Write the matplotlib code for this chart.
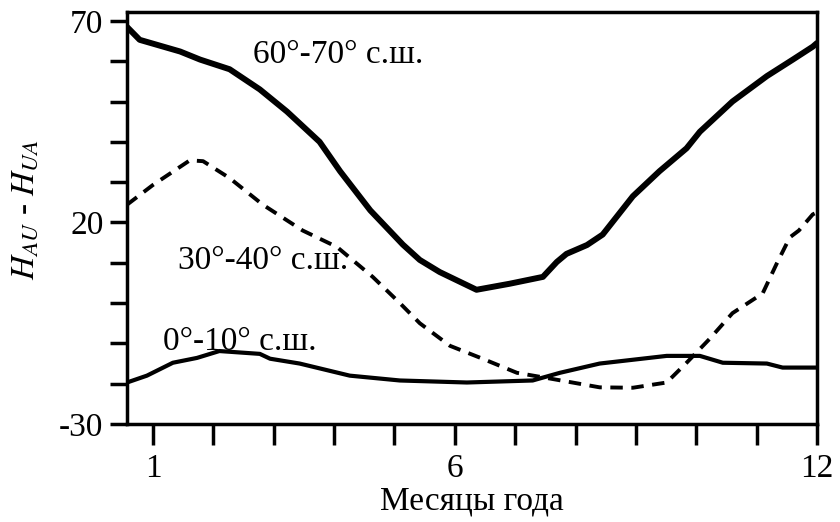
import matplotlib
matplotlib.use("Agg")
import matplotlib.pyplot as plt
from matplotlib.ticker import MultipleLocator

plt.rcParams['font.family'] = ['Liberation Serif', 'DejaVu Serif']
plt.rcParams['mathtext.fontset'] = 'stix'
plt.rcParams['axes.unicode_minus'] = False

# 60-70 N, thick solid
months_60 = [0.57, 0.78, 1.45, 1.78, 2.27, 2.77, 3.22, 3.76, 4.1, 4.6, 5.14, 5.42,
             5.75, 6.36, 6.91, 7.46, 7.69, 7.85, 8.19, 8.45, 8.95, 9.39, 9.84,
             10.06, 10.6, 11.17, 11.6, 11.93, 12.0]
vals_60 = [68.5, 65.3, 62.4, 60.4, 58.0, 53.0, 47.5, 40.0, 32.7, 23.0, 14.5, 10.7,
           7.7, 3.3, 4.8, 6.5, 10.2, 12.2, 14.4, 17.0, 26.5, 32.7, 38.4,
           42.5, 50.0, 56.3, 60.4, 63.6, 64.5]

# 30-40 N, dashed
months_30 = [0.57, 1.0, 1.61, 1.83, 2.27, 2.82, 3.48, 4.05, 4.64, 5.09, 5.42, 5.92,
             6.46, 7.03, 7.57, 8.4, 8.95, 9.51, 9.84, 10.22, 10.6, 11.1, 11.33,
             11.55, 11.7, 11.93, 12.0]
vals_30 = [24.4, 29.3, 35.4, 35.2, 31.0, 24.4, 18.0, 13.9, 6.5, 0.0, -5.0, -10.6,
           -13.8, -17.3, -18.7, -20.9, -21.0, -19.7, -14.8, -8.9, -2.5, 2.4, 9.7,
           16.3, 18.0, 22.0, 22.5]

# 0-10 N, solid
months_0 = [0.57, 0.9, 1.33, 1.73, 2.1, 2.77, 2.94, 3.43, 4.26, 5.09, 6.2, 7.29,
            7.74, 8.4, 9.51, 10.06, 10.44, 11.17, 11.43, 11.71, 12.0]
vals_0 = [-19.7, -18.0, -14.8, -13.6, -11.9, -12.6, -13.8, -15.0, -18.0, -19.2,
          -19.7, -19.2, -17.3, -15.0, -13.1, -13.1, -14.8, -15.0, -16.0, -16.0, -16.0]

fig = plt.figure(figsize=(8.4, 5.22), dpi=100)
ax = fig.add_axes([0.1512, 0.1877, 0.8214, 0.7893])

ax.plot(months_60, vals_60, color='black', lw=4.3,
        solid_capstyle='round', solid_joinstyle='round')
ax.plot(months_30, vals_30, color='black', lw=2.8, dashes=(3.2, 2.2))
ax.plot(months_0, vals_0, color='black', lw=3.0, solid_joinstyle='round')

ax.text(2.66, 61.5, "60°-70° с.ш.", fontsize=24, va='center')
ax.text(1.41, 10.5, "30°-40° с.ш.", fontsize=24, va='center')
ax.text(1.16, -9.5, "0°-10° с.ш.", fontsize=24, va='center')

ax.set_xlim(0.57, 12)
ax.set_ylim(-30, 72.2)
ax.set_xticks([1, 6, 12])
ax.xaxis.set_minor_locator(MultipleLocator(1))
ax.set_yticks([-30, 20, 70])
ax.yaxis.set_minor_locator(MultipleLocator(10))
ax.tick_params(axis='both', which='both', direction='out', width=2.5, labelsize=24)
ax.tick_params(axis='x', which='both', length=15, pad=6)
ax.tick_params(axis='y', which='both', length=12, pad=5)

for sp in ax.spines.values():
    sp.set_linewidth(2.5)

ax.set_xlabel("Месяцы года", fontsize=24, labelpad=2)
ax.set_ylabel("$H_{AU}$ - $H_{UA}$", fontsize=24)
ax.yaxis.set_label_coords(-0.125, 0.52)

fig.savefig("out.png", dpi=100)
